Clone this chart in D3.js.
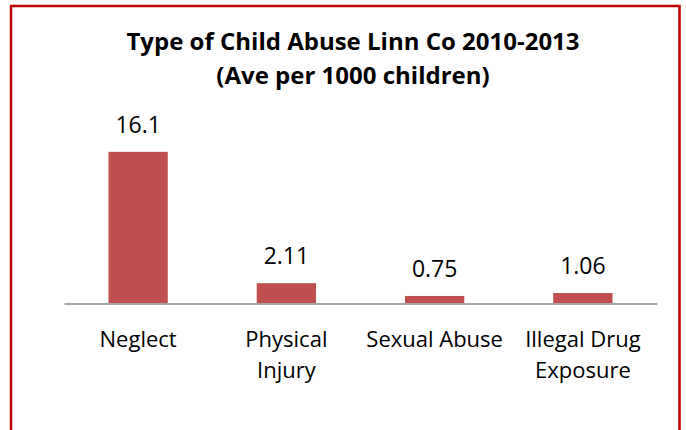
<!DOCTYPE html>
<html>
<head>
<meta charset="utf-8">
<script src="https://cdn.jsdelivr.net/npm/d3@7"></script>
<style>
  body { margin: 0; background: #fff; }
  svg { display: block; }
</style>
</head>
<body>
<div class="chart"></div>
<script>
const svgWidth = 686;
const svgHeight = 430;

const categories = ["Neglect", "Physical Injury", "Sexual Abuse", "Illegal Drug Exposure"];
const tickLines = [["Neglect"], ["Physical", "Injury"], ["Sexual Abuse"], ["Illegal Drug", "Exposure"]];
const values = [16.1, 2.11, 0.75, 1.06];
const valueLabels = ["16.1", "2.11", "0.75", "1.06"];
const titleLines = ["Type of Child Abuse Linn Co 2010-2013", "(Ave per 1000 children)"];

const barColor = "#c0504d";
const font = "'Open Sans', 'Noto Sans', sans-serif";

const svg = d3.select(".chart")
    .append("svg")
    .attr("width", svgWidth)
    .attr("height", svgHeight);

svg.append("rect")
    .attr("width", svgWidth)
    .attr("height", svgHeight)
    .attr("fill", "#fff");

// red frame, bottom edge runs off the picture
svg.append("rect")
    .attr("x", 11)
    .attr("y", 6)
    .attr("width", 668.5)
    .attr("height", 520)
    .attr("fill", "none")
    .attr("stroke", "#c00000")
    .attr("stroke-width", 2.5);

const xScale = d3.scaleBand()
    .domain(categories)
    .range([64, 657])
    .paddingInner(0.6)
    .paddingOuter(0.3);

const yScale = d3.scaleLinear()
    .domain([0, 18])
    .range([303, 134]);

// title
svg.selectAll(".title")
    .data(titleLines)
    .enter()
    .append("text")
    .attr("class", "title")
    .attr("x", 353)
    .attr("y", (_, i) => 50 + i * 34)
    .attr("text-anchor", "middle")
    .style("font-family", font)
    .style("font-weight", "bold")
    .style("font-size", "24px")
    .style("fill", "#000")
    .text(d => d);

svg.selectAll(".bar")
    .data(values)
    .enter()
    .append("rect")
    .attr("class", "bar")
    .attr("x", (_, i) => xScale(categories[i]))
    .attr("y", d => yScale(d))
    .attr("width", xScale.bandwidth())
    .attr("height", d => yScale(0) - yScale(d))
    .attr("fill", barColor);

svg.selectAll(".value")
    .data(values)
    .enter()
    .append("text")
    .attr("class", "value")
    .attr("x", (_, i) => xScale(categories[i]) + xScale.bandwidth() / 2)
    .attr("y", d => yScale(d) - 19)
    .attr("text-anchor", "middle")
    .style("font-family", font)
    .style("font-size", "23px")
    .style("fill", "#000")
    .text((_, i) => valueLabels[i]);

const xAxis = d3.axisBottom(xScale)
    .tickSize(0)
    .tickPadding(0);

const axisG = svg.append("g")
    .attr("class", "x-axis")
    .attr("transform", `translate(0,${yScale(0) + 0.5})`)
    .call(xAxis);

axisG.select(".domain")
    .attr("stroke", "#898989")
    .attr("stroke-width", 1.6);

axisG.selectAll(".tick text").remove();
axisG.selectAll(".tick")
    .append("text")
    .attr("text-anchor", "middle")
    .style("font-family", font)
    .style("font-size", "22px")
    .style("fill", "#000")
    .selectAll("tspan")
    .data((_, i) => tickLines[i])
    .enter()
    .append("tspan")
    .attr("x", 0)
    .attr("y", (_, j) => 43 + j * 31)
    .text(d => d);
</script>
</body>
</html>
